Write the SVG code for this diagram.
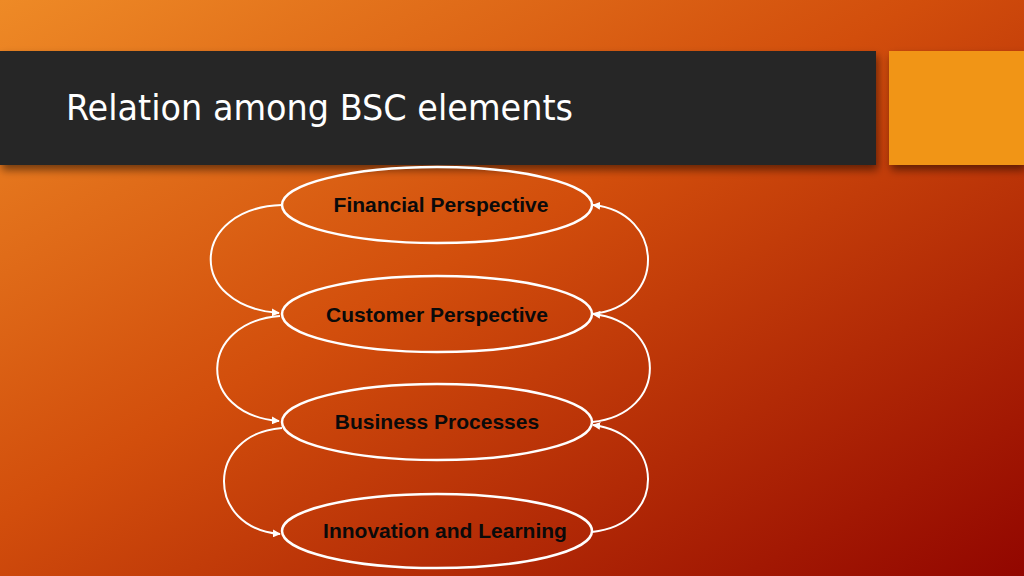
<svg xmlns="http://www.w3.org/2000/svg" width="1024" height="576" viewBox="0 0 1024 576">
  <defs>
    <linearGradient id="bg" x1="0" y1="0" x2="1" y2="1">
      <stop offset="0" stop-color="#EE8A26"/>
      <stop offset="0.45" stop-color="#D24E0C"/>
      <stop offset="1" stop-color="#920600"/>
    </linearGradient>
    <filter id="sh" x="-5%" y="-20%" width="110%" height="150%">
      <feGaussianBlur in="SourceAlpha" stdDeviation="4"/>
      <feOffset dx="2" dy="5"/>
      <feComponentTransfer><feFuncA type="linear" slope="0.5"/></feComponentTransfer>
      <feMerge><feMergeNode/><feMergeNode in="SourceGraphic"/></feMerge>
    </filter>
    <marker id="ah" viewBox="0 0 10 10" refX="9" refY="5" markerWidth="4" markerHeight="4" orient="auto" markerUnits="strokeWidth">
      <path d="M0,0 L10,5 L0,10 Z" fill="#FFFFFF"/>
    </marker>
    <style>
      .node ellipse { fill: none; stroke: #FFFFFF; stroke-width: 2.5; }
      .node text { font-family: "Liberation Sans", Arial, sans-serif; font-weight: bold; font-size: 21px; fill: #0A0A0A; text-anchor: middle; }
      .conn path { fill: none; stroke: #FFFFFF; stroke-width: 2; marker-end: url(#ah); }
    </style>
  </defs>
  <rect x="0" y="0" width="1024" height="576" fill="url(#bg)"/>
  <g id="header">
    <rect x="0" y="51" width="876" height="114" fill="#262626" filter="url(#sh)"/>
    <rect x="889" y="51" width="135" height="114" fill="#F19519" filter="url(#sh)"/>
    <text x="66" y="120" font-family="DejaVu Sans Condensed, 'DejaVu Sans', sans-serif" font-size="36" fill="#FFFFFF" textLength="507" lengthAdjust="spacingAndGlyphs">Relation among BSC elements</text>
  </g>
  <g class="conn" id="connectors">
    <path d="M282,205 C190,208 185,306 279,313"/>
    <path d="M280,316 C198,322 195,414 279,421"/>
    <path d="M282,428 C205,434 205,528 280,534"/>
    <path d="M592,314 C668,306 665,212 593,205"/>
    <path d="M592,422 C670,414 668,322 593,314"/>
    <path d="M592,532 C668,524 665,434 593,425"/>
  </g>
  <g class="node" id="financial">
    <ellipse cx="437" cy="205" rx="155" ry="38"/>
    <text x="441" y="212">Financial Perspective</text>
  </g>
  <g class="node" id="customer">
    <ellipse cx="437" cy="314" rx="155" ry="38"/>
    <text x="437" y="322">Customer Perspective</text>
  </g>
  <g class="node" id="business">
    <ellipse cx="437" cy="422" rx="155" ry="38"/>
    <text x="437" y="429">Business Processes</text>
  </g>
  <g class="node" id="innovation">
    <ellipse cx="437" cy="531" rx="155" ry="37"/>
    <text x="445" y="538">Innovation and Learning</text>
  </g>
</svg>
